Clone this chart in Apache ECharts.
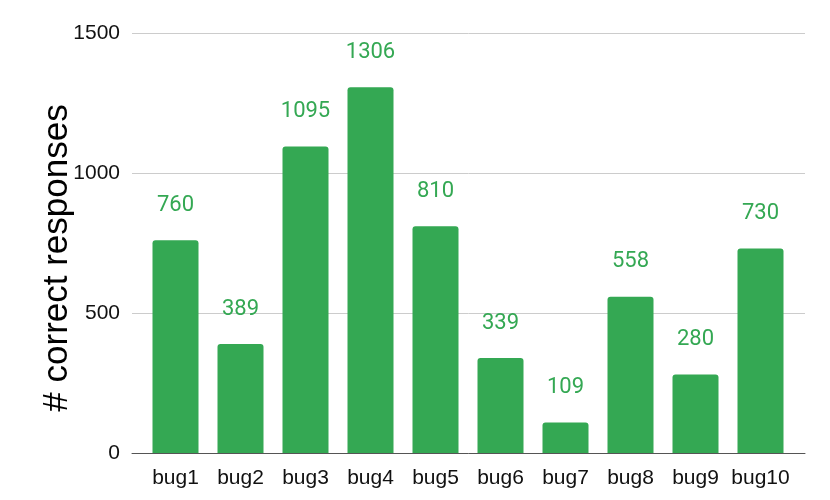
<!DOCTYPE html>
<html>
<head>
<meta charset="utf-8">
<script src="https://cdn.jsdelivr.net/npm/echarts@6/dist/echarts.min.js"></script>
<style>
  html, body { margin: 0; padding: 0; background: #fff; }
  #main { width: 830px; height: 500px; }
</style>
</head>
<body>
<div id="main"></div>
<script>
const categories = ['bug1', 'bug2', 'bug3', 'bug4', 'bug5', 'bug6', 'bug7', 'bug8', 'bug9', 'bug10'];
const responses = [760, 389, 1095, 1306, 810, 339, 109, 558, 280, 730];
const yTicks = [0, 500, 1000, 1500];

const green = '#34a853';
const axisFont = '"Liberation Sans", Arial, sans-serif';
const labelFont = 'Roboto, sans-serif';

let chart = echarts.init(document.getElementById('main'), null, { renderer: 'canvas' });

const option = {
  backgroundColor: '#fff',
  textStyle: { fontFamily: axisFont },
  grid: [
    // outer grid: gridlines, axis line, y labels
    { left: 132, right: 25, top: 33, bottom: 47 },
    // inner grid: bars
    { left: 143, right: 37, top: 33, bottom: 47 }
  ],
  xAxis: [
    {
      gridIndex: 0,
      type: 'value',
      min: 0,
      max: 1,
      axisLine: { show: true, onZero: false, lineStyle: { color: '#555', width: 1 } },
      axisTick: { show: false },
      axisLabel: { show: false },
      splitLine: { show: false }
    },
    {
      gridIndex: 1,
      type: 'category',
      data: categories,
      axisLine: { show: false },
      axisTick: { show: false },
      axisLabel: { color: '#111', fontSize: 21, margin: 15, fontFamily: axisFont, interval: 0 }
    }
  ],
  yAxis: [
    {
      gridIndex: 0,
      type: 'value',
      min: yTicks[0],
      max: yTicks[yTicks.length - 1],
      interval: 500,
      name: '# correct responses',
      nameLocation: 'middle',
      nameGap: 57,
      nameMoveOverlap: false,
      nameTextStyle: { color: '#000', fontSize: 35, fontFamily: axisFont, padding: [0, 30, 0, 0] },
      axisLine: { show: false },
      axisTick: { show: false },
      axisLabel: {
        color: '#111',
        fontSize: 21,
        margin: 12,
        fontFamily: axisFont,
        formatter: v => String(v)
      },
      splitLine: { lineStyle: { color: '#ccc', width: 1 } }
    },
    {
      gridIndex: 1,
      type: 'value',
      min: yTicks[0],
      max: yTicks[yTicks.length - 1],
      interval: 500,
      show: false,
      splitLine: { show: false }
    }
  ],
  series: [
    {
      type: 'bar',
      xAxisIndex: 1,
      yAxisIndex: 1,
      data: responses,
      barWidth: 46,
      itemStyle: { color: green, borderRadius: [3, 3, 0, 0] },
      label: {
        show: true,
        position: 'top',
        distance: 24,
        color: green,
        fontSize: 22,
        fontFamily: labelFont
      }
    }
  ]
};

chart.setOption(option);
</script>
</body>
</html>
